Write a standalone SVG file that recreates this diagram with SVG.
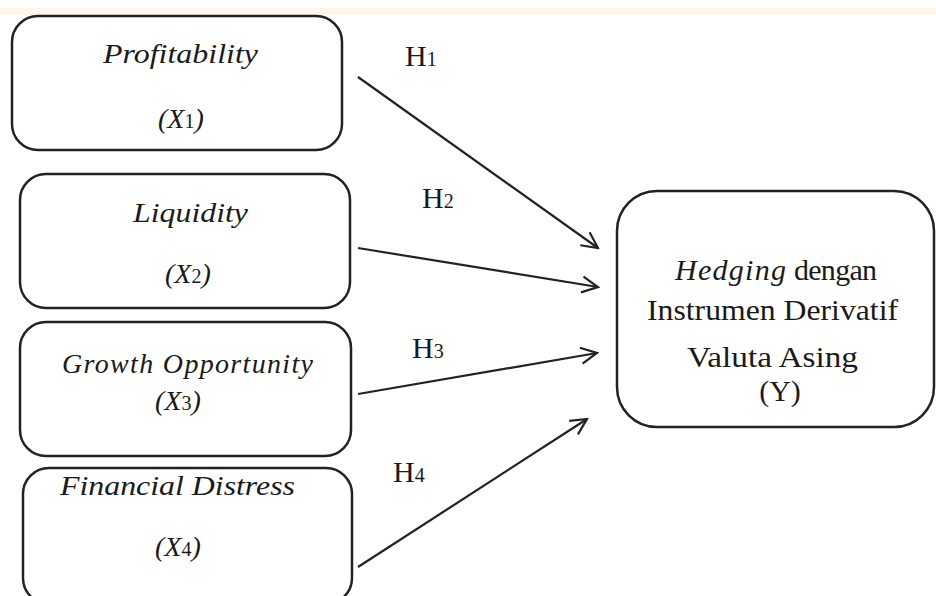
<svg xmlns="http://www.w3.org/2000/svg" width="936" height="596" viewBox="0 0 936 596">
<style>
.box{fill:#ffffff;stroke:#222222;stroke-width:2.5}
.it{font-family:"Liberation Serif",serif;font-style:italic;font-size:28px;fill:#1a1a1a}
.rm{font-family:"Liberation Serif",serif;font-size:30px;fill:#1a1a1a}
.sub{font-size:20px}
.con{stroke:#222222;stroke-width:2.2;fill:none;marker-end:url(#arr)}
</style>
<defs>
<marker id="arr" viewBox="0 0 20 20" refX="18" refY="10" markerWidth="20" markerHeight="20" markerUnits="userSpaceOnUse" orient="auto">
<polyline points="2,2 18,10 2,18" fill="none" stroke="#222222" stroke-width="2.2"/>
</marker>
</defs>
<rect x="0" y="0" width="936" height="596" fill="#ffffff"/>
<rect x="0" y="8" width="936" height="7" fill="#fdf6ea"/>
<g id="connectors">
<line class="con" x1="358" y1="77" x2="598" y2="248"/>
<line class="con" x1="358" y1="248" x2="598" y2="287"/>
<line class="con" x1="358" y1="394" x2="597" y2="353"/>
<line class="con" x1="358" y1="567" x2="587" y2="419"/>
<text class="rm" x="405" y="66">H<tspan class="sub">1</tspan></text>
<text class="rm" x="422" y="208">H<tspan class="sub">2</tspan></text>
<text class="rm" x="412" y="358">H<tspan class="sub">3</tspan></text>
<text class="rm" x="393" y="482">H<tspan class="sub">4</tspan></text>
</g>
<g id="x1">
<rect class="box" x="12" y="16" width="330" height="134" rx="26"/>
<text class="it" x="103" y="63" textLength="155" lengthAdjust="spacingAndGlyphs">Profitability</text>
<text class="it" x="158" y="128">(X<tspan class="sub" font-style="normal">1</tspan>)</text>
</g>
<g id="x2">
<rect class="box" x="20" y="174" width="330" height="134" rx="26"/>
<text class="it" x="133" y="222" textLength="115" lengthAdjust="spacingAndGlyphs">Liquidity</text>
<text class="it" x="165" y="283">(X<tspan class="sub" font-style="normal">2</tspan>)</text>
</g>
<g id="x3">
<rect class="box" x="20" y="322" width="331" height="134" rx="26"/>
<text class="it" x="62" y="373" textLength="251" lengthAdjust="spacing">Growth Opportunity</text>
<text class="it" x="155" y="410">(X<tspan class="sub" font-style="normal">3</tspan>)</text>
</g>
<g id="x4">
<rect class="box" x="23" y="468" width="329" height="136" rx="26"/>
<text class="it" x="60" y="495" textLength="235" lengthAdjust="spacingAndGlyphs">Financial Distress</text>
<text class="it" x="155" y="556">(X<tspan class="sub" font-style="normal">4</tspan>)</text>
</g>
<g id="y">
<rect class="box" x="617" y="191" width="317" height="236" rx="40"/>
<text class="rm" x="675" y="280" textLength="202" lengthAdjust="spacing"><tspan font-style="italic" letter-spacing="2">Hedging</tspan> dengan</text>
<text class="rm" x="647" y="320" textLength="251" lengthAdjust="spacingAndGlyphs">Instrumen Derivatif</text>
<text class="rm" x="687" y="367" textLength="171" lengthAdjust="spacingAndGlyphs">Valuta Asing</text>
<text class="rm" x="780" y="401" text-anchor="middle" font-size="28">(Y)</text>
</g>
</svg>
